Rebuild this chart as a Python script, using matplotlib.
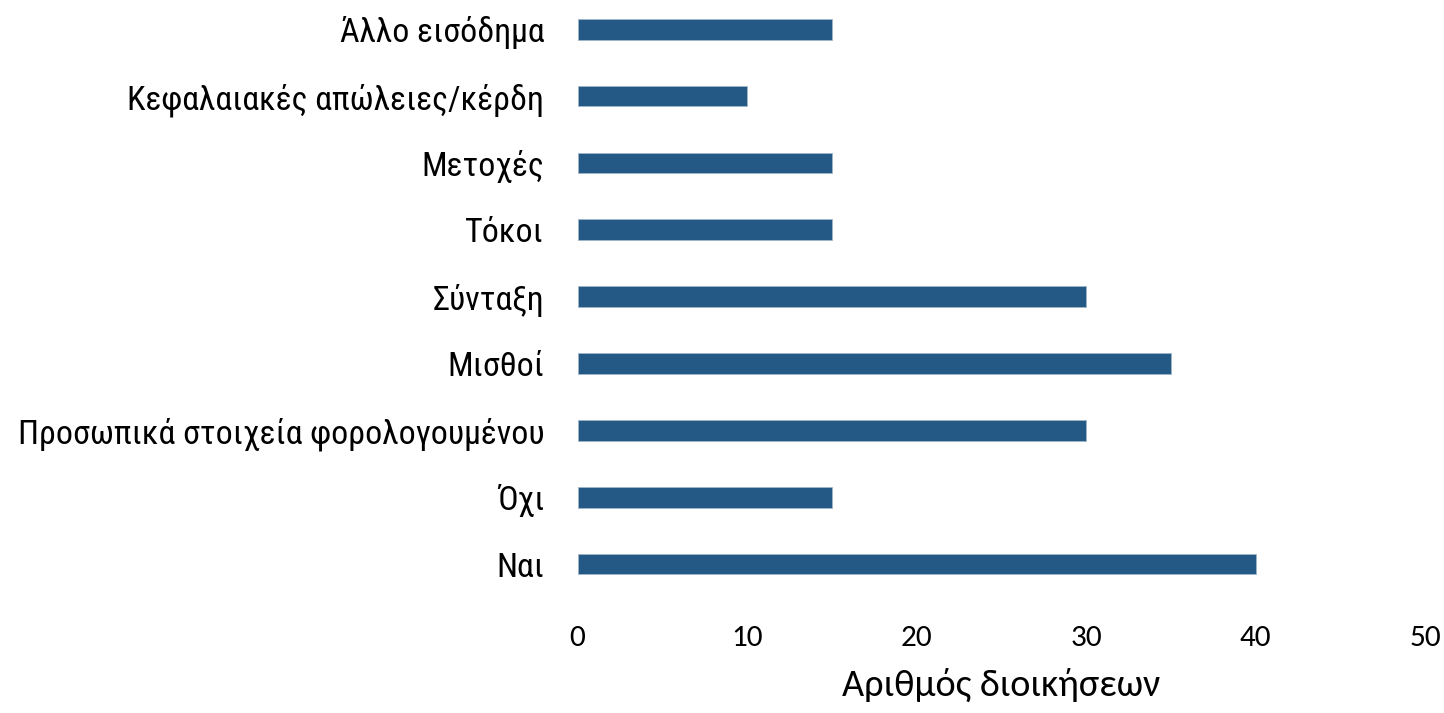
import matplotlib
matplotlib.use("Agg")
import matplotlib.pyplot as plt

categories = ["Άλλο εισόδημα", "Κεφαλαιακές απώλειες/κέρδη", "Μετοχές", "Τόκοι",
              "Σύνταξη", "Μισθοί", "Προσωπικά στοιχεία φορολογουμένου", "Όχι", "Ναι"]
values = [15, 10, 15, 15, 30, 35, 30, 15, 40]
xticks = [0, 10, 20, 30, 40, 50]
xlabel = "Αριθμός διοικήσεων"

label_font = ["Roboto Condensed", "Liberation Sans", "DejaVu Sans"]
tick_font = ["Carlito", "Open Sans", "DejaVu Sans"]

fig = plt.figure(figsize=(14.44, 7.13), dpi=100)
ax = fig.add_axes([0.400, 0.162, 0.587, 0.844])

n = len(categories)
ypos = [n - 1 - i for i in range(n)]
ax.barh(ypos, values, height=0.31, color="#245985", edgecolor="#9fb6c9", linewidth=0.6)
ax.set_ylim(-0.5, n - 0.5)
ax.set_xlim(0, 50)
ax.set_xticks(xticks)
ax.set_xticklabels([str(t) for t in xticks], fontfamily=tick_font, fontsize=22.5)
ax.set_yticks(ypos)
ax.set_yticklabels(categories, fontfamily=label_font, fontsize=24.4)
ax.tick_params(axis="both", length=0)
ax.tick_params(axis="y", pad=24)
ax.tick_params(axis="x", pad=20)
for s in ax.spines.values():
    s.set_visible(False)
ax.set_xlabel(xlabel, fontfamily=tick_font, fontsize=27.5, labelpad=12)

fig.savefig("out.png", dpi=100, facecolor="white")
